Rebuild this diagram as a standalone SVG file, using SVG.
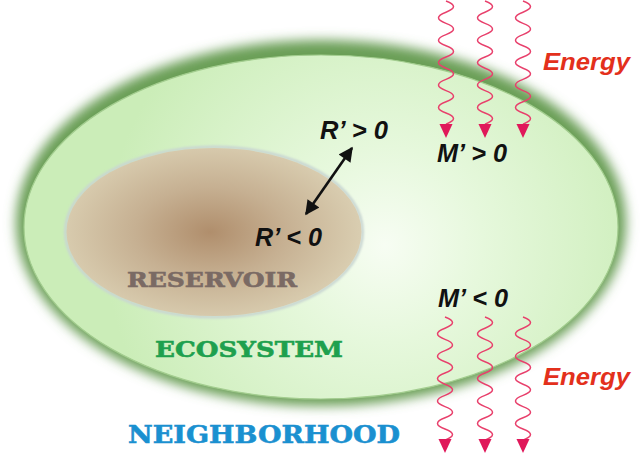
<svg xmlns="http://www.w3.org/2000/svg" width="643" height="454" viewBox="0 0 643 454">
<style>
.lab{font-family:"Liberation Sans",Arial,sans-serif;font-weight:bold;font-style:italic;font-size:26px;fill:#111}
.en{font-family:"Liberation Sans",Arial,sans-serif;font-weight:bold;font-style:italic;font-size:23px;fill:#e3301c}
.st{font-family:"DejaVu Serif","Liberation Serif",serif;font-weight:bold;stroke-width:0.6}
.wave{fill:none;stroke:#e8406c;stroke-width:1.5}
.head{fill:#e0185a}
</style>
<defs>
<filter id="blur6" x="-10%" y="-10%" width="120%" height="120%"><feGaussianBlur stdDeviation="6"/></filter>
<filter id="blur1" x="-5%" y="-5%" width="110%" height="110%"><feGaussianBlur stdDeviation="1"/></filter>
<radialGradient id="ecoG" gradientUnits="userSpaceOnUse" cx="385" cy="245" r="280">
<stop offset="0" stop-color="#f7fdf3"/>
<stop offset="0.35" stop-color="#e6f8dc"/>
<stop offset="1" stop-color="#cbedb8"/>
</radialGradient>
<radialGradient id="resG" gradientUnits="userSpaceOnUse" cx="210" cy="232" r="150" gradientTransform="translate(210 232) scale(1 0.6) translate(-210 -232)">
<stop offset="0" stop-color="#b08e6c"/>
<stop offset="0.5" stop-color="#c6b092"/>
<stop offset="1" stop-color="#d9cdb0"/>
</radialGradient>
<marker id="ah" viewBox="0 0 10 10" refX="9" refY="5" markerWidth="6" markerHeight="5.5" orient="auto-start-reverse" markerUnits="strokeWidth">
<path d="M0,0 L10,5 L0,10 Z" fill="#111"/>
</marker>
</defs>

<g id="ecosystem">
<ellipse cx="321" cy="223" rx="305" ry="183" fill="#6a9f57" filter="url(#blur6)"/>
<ellipse cx="321" cy="227" rx="297" ry="172" fill="url(#ecoG)" stroke="#a3cd8f" stroke-width="1.2"/>
<text class="st" x="155" y="357" font-size="22" fill="#1ea04e" stroke="#1ea04e" textLength="188" lengthAdjust="spacingAndGlyphs">ECOSYSTEM</text>
</g>

<g id="reservoir">
<ellipse cx="214" cy="232" rx="148.5" ry="85" fill="none" stroke="#c9d6d2" stroke-width="3" filter="url(#blur1)"/>
<ellipse cx="214" cy="232" rx="147.5" ry="84" fill="url(#resG)"/>
<text class="st" x="127" y="287" font-size="21" fill="#7a6a64" stroke="#7a6a64" textLength="170" lengthAdjust="spacingAndGlyphs">RESERVOIR</text>
</g>

<g id="neighborhood">
<text class="st" x="128" y="443" font-size="24" fill="#1a90d0" stroke="#1a90d0" textLength="272" lengthAdjust="spacingAndGlyphs">NEIGHBORHOOD</text>
</g>

<g id="r-pos"><text class="lab" x="320" y="139" textLength="68" lengthAdjust="spacingAndGlyphs">R’ &gt; 0</text></g>
<g id="r-neg"><text class="lab" x="255" y="246" textLength="67" lengthAdjust="spacingAndGlyphs">R’ &lt; 0</text></g>
<g id="m-pos"><text class="lab" x="437" y="162" textLength="70" lengthAdjust="spacingAndGlyphs">M’ &gt; 0</text></g>
<g id="m-neg"><text class="lab" x="438" y="307" textLength="70" lengthAdjust="spacingAndGlyphs">M’ &lt; 0</text></g>
<g id="energy-in"><text class="en" x="543" y="70" textLength="87" lengthAdjust="spacingAndGlyphs">Energy</text></g>
<g id="energy-out"><text class="en" x="543" y="385" textLength="87" lengthAdjust="spacingAndGlyphs">Energy</text></g>

<g id="connectors">
<line x1="306" y1="214" x2="352" y2="148" stroke="#111" stroke-width="2.6" marker-start="url(#ah)" marker-end="url(#ah)"/>

<path class="wave" d="M446,1 q15,5.6 0,11.2 t0,11.2 t0,11.2 t0,11.2 t0,11.2 t0,11.2 t0,11.2 t0,11.2 t0,11.2 t0,11.2 t0,11.2"/>
<path class="wave" d="M485,1 q15,5.6 0,11.2 t0,11.2 t0,11.2 t0,11.2 t0,11.2 t0,11.2 t0,11.2 t0,11.2 t0,11.2 t0,11.2 t0,11.2"/>
<path class="wave" d="M523,1 q15,5.6 0,11.2 t0,11.2 t0,11.2 t0,11.2 t0,11.2 t0,11.2 t0,11.2 t0,11.2 t0,11.2 t0,11.2 t0,11.2"/>
<polygon class="head" points="439.5,124 452.5,124 446,138"/>
<polygon class="head" points="478.5,124 491.5,124 485,138"/>
<polygon class="head" points="516.5,124 529.5,124 523,138"/>

<path class="wave" d="M445,317 q15,5.6 0,11.2 t0,11.2 t0,11.2 t0,11.2 t0,11.2 t0,11.2 t0,11.2 t0,11.2 t0,11.2 t0,11.2 t0,11.2"/>
<path class="wave" d="M485,317 q15,5.6 0,11.2 t0,11.2 t0,11.2 t0,11.2 t0,11.2 t0,11.2 t0,11.2 t0,11.2 t0,11.2 t0,11.2 t0,11.2"/>
<path class="wave" d="M523,317 q15,5.6 0,11.2 t0,11.2 t0,11.2 t0,11.2 t0,11.2 t0,11.2 t0,11.2 t0,11.2 t0,11.2 t0,11.2 t0,11.2"/>
<polygon class="head" points="438.5,439 451.5,439 445,453"/>
<polygon class="head" points="478.5,439 491.5,439 485,453"/>
<polygon class="head" points="516.5,439 529.5,439 523,453"/>
</g>
</svg>
